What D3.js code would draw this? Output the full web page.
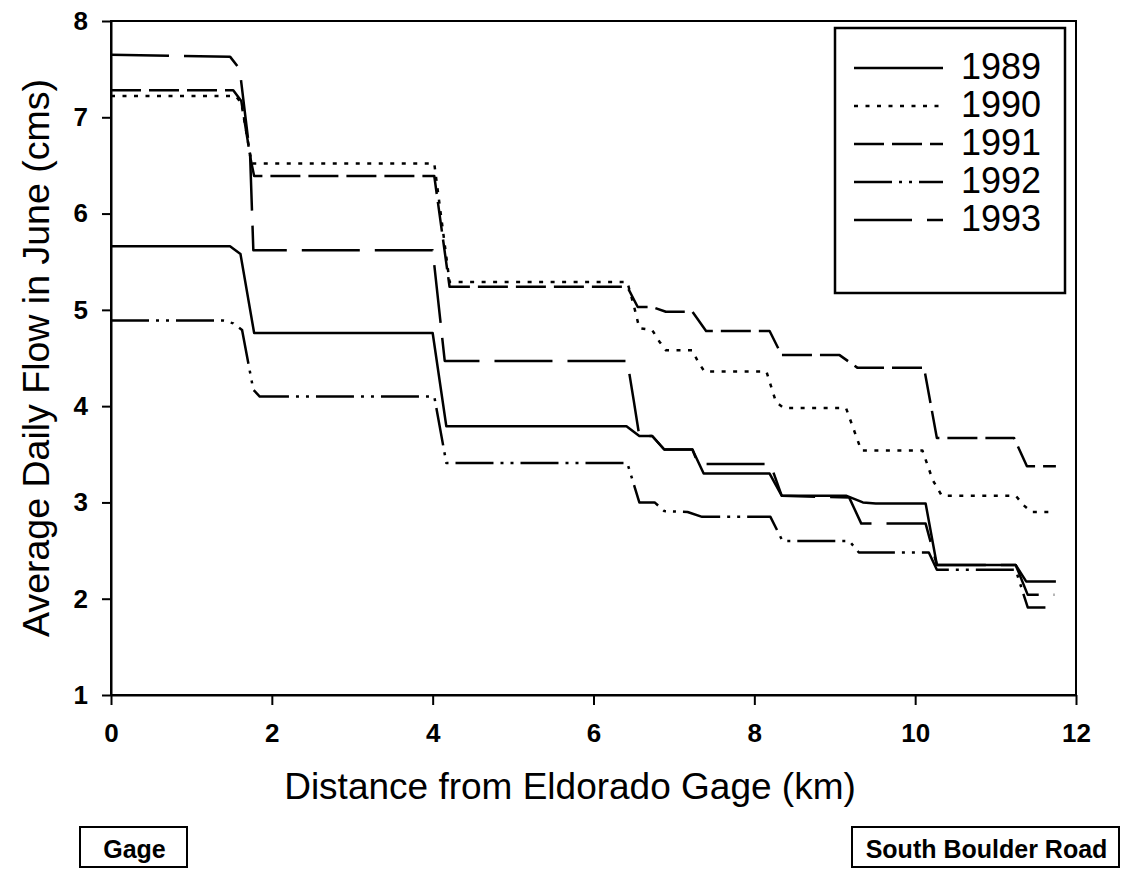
<!DOCTYPE html>
<html>
<head>
<meta charset="utf-8">
<script src="https://cdn.jsdelivr.net/npm/d3@7"></script>
<style>
    body { margin: 0; background: white; }
    svg { display: block; }
    text { font-family: Arial, "Liberation Sans", sans-serif; fill: black; }
</style>
</head>
<body>
<div id="chart-container"></div>
<script>
'use strict'

var years = ['1989', '1990', '1991', '1992', '1993']

var km1989 = [0, 1.48, 1.61, 1.78, 4.0, 4.17, 6.41, 6.57, 6.73, 6.88, 7.23, 7.37, 8.19, 8.34, 9.14, 9.35, 9.51, 10.13, 10.27, 11.25, 11.38, 11.75]
var q1989  = [5.66, 5.66, 5.58, 4.76, 4.76, 3.79, 3.79, 3.69, 3.69, 3.55, 3.55, 3.30, 3.30, 3.07, 3.07, 3.0, 2.99, 2.99, 2.35, 2.35, 2.18, 2.18]

var km1990 = [0, 1.55, 1.62, 1.75, 4.02, 4.21, 6.42, 6.5, 6.57, 6.73, 6.82, 6.9, 7.23, 7.3, 7.38, 8.15, 8.27, 8.37, 9.14, 9.33, 10.09, 10.22, 10.33, 11.25, 11.35, 11.45, 11.72]
var q1990  = [7.22, 7.22, 7.15, 6.52, 6.52, 5.29, 5.29, 5.05, 4.81, 4.79, 4.67, 4.58, 4.58, 4.46, 4.36, 4.36, 4.04, 3.98, 3.98, 3.54, 3.54, 3.23, 3.07, 3.07, 2.97, 2.9, 2.9]

var km1991 = [0, 1.52, 1.62, 1.74, 1.78, 4.02, 4.21, 6.42, 6.55, 6.73, 6.9, 7.23, 7.4, 8.19, 8.34, 9.06, 9.28, 10.11, 10.27, 11.23, 11.39, 11.75]
var q1991  = [7.28, 7.28, 7.17, 6.55, 6.39, 6.39, 5.24, 5.24, 5.03, 5.03, 4.98, 4.98, 4.78, 4.78, 4.53, 4.53, 4.40, 4.40, 3.67, 3.67, 3.375, 3.375]

var km1992 = [0, 1.39, 1.52, 1.63, 1.77, 1.85, 4.02, 4.17, 6.42, 6.57, 6.76, 6.88, 7.17, 7.35, 8.2, 8.35, 9.18, 9.3, 10.17, 10.27, 11.25, 11.4, 11.62]
var q1992  = [4.89, 4.89, 4.86, 4.79, 4.17, 4.10, 4.10, 3.41, 3.41, 3.0, 3.0, 2.91, 2.9, 2.85, 2.85, 2.6, 2.6, 2.48, 2.48, 2.30, 2.30, 1.91, 1.91]

var km1993 = [0, 1.48, 1.6, 1.73, 1.77, 4.0, 4.15, 6.42, 6.5, 6.57, 6.73, 6.88, 7.23, 7.3, 8.2, 8.34, 9.18, 9.33, 10.13, 10.27, 11.25, 11.4, 11.73]
var q1993  = [7.65, 7.63, 7.5, 6.6, 5.62, 5.62, 4.47, 4.47, 4.06, 3.69, 3.69, 3.55, 3.55, 3.40, 3.40, 3.07, 3.05, 2.78, 2.78, 2.35, 2.35, 2.04, 2.04]

var xTicks = [0, 2, 4, 6, 8, 10, 12]
var yTicks = [1, 2, 3, 4, 5, 6, 7, 8]
var sites = ['Gage', 'South Boulder Road']

var xTitle = 'Distance from Eldorado Gage (km)'
var yTitle = 'Average Daily Flow in June (cms)'

var seriesKm = [km1989, km1990, km1991, km1992, km1993]
var seriesQ = [q1989, q1990, q1991, q1992, q1993]

// dash pattern per year, same order as years
var dashes = [null, '4,7.5', '30,8', '38,7,3,7,3,7', '58,15']

var drawChart = function() {
    let width = 1122
    let height = 869

    let svg = d3.select('#chart-container')
        .append('svg')
            .attr('width', width)
            .attr('height', height)

    let x = d3.scaleLinear()
        .domain([0, 12])
        .range([111, 1076])

    let y = d3.scaleLinear()
        .domain([1, 8])
        .range([695, 21])

    // frame
    svg.append('rect')
        .attr('x', x(0))
        .attr('y', y(8))
        .attr('width', x(12) - x(0))
        .attr('height', y(1) - y(8))
        .style('fill', 'none')
        .style('stroke', 'black')
        .style('stroke-width', 2)

    let xAxis = d3.axisBottom(x)
        .tickValues(xTicks)
        .tickFormat(d3.format('d'))
        .tickSize(10)
        .tickSizeOuter(0)
        .tickPadding(19)

    let yAxis = d3.axisLeft(y)
        .tickValues(yTicks)
        .tickFormat(d3.format('d'))
        .tickSize(9)
        .tickSizeOuter(0)
        .tickPadding(14)

    svg.append('g')
        .attr('class', 'x axis')
        .attr('transform', 'translate(0,' + y(1) + ')')
        .call(xAxis)

    svg.append('g')
        .attr('class', 'y axis')
        .attr('transform', 'translate(' + x(0) + ',0)')
        .call(yAxis)

    svg.selectAll('.axis path, .axis line')
        .style('stroke', 'black')
        .style('stroke-width', 2)

    svg.selectAll('.axis text')
        .style('font-family', 'Arial, "Liberation Sans", sans-serif')
        .style('font-size', '26px')
        .style('font-weight', 'bold')
        .style('fill', 'black')

    // axis titles
    svg.append('text')
        .attr('x', 570)
        .attr('y', 799)
        .style('font-size', '37px')
        .style('text-anchor', 'middle')
        .text(xTitle)

    svg.append('text')
        .attr('transform', 'translate(49,' + (y(1) + y(8)) / 2 + ') rotate(-90)')
        .style('font-size', '37.5px')
        .style('text-anchor', 'middle')
        .text(yTitle)

    // flow lines
    let line = d3.line()
        .x(d => { return x(d[0]) })
        .y(d => { return y(d[1]) })

    years.forEach((yr, i) => {
        let pts = seriesKm[i].map((k, j) => { return [k, seriesQ[i][j]] })
        svg.append('path')
            .datum(pts)
            .attr('d', line)
            .style('fill', 'none')
            .style('stroke', 'black')
            .style('stroke-width', 2.5)
            .style('stroke-linejoin', 'round')
            .style('stroke-dasharray', dashes[i])
    })

    // legend
    let legend = svg.append('g').attr('class', 'legend')

    legend.append('rect')
        .attr('x', 835)
        .attr('y', 28)
        .attr('width', 230)
        .attr('height', 265)
        .style('fill', 'white')
        .style('stroke', 'black')
        .style('stroke-width', 2.5)

    let rows = legend.selectAll('.row').data(years)
        .enter().append('g')
            .attr('class', 'row')
            .attr('transform', (d, i) => { return 'translate(0,' + (68 + i * 38) + ')' })

    rows.append('line')
        .attr('x1', 854)
        .attr('x2', 943)
        .style('stroke', 'black')
        .style('stroke-width', 2.5)
        .style('stroke-dasharray', (d, i) => { return dashes[i] })

    rows.append('text')
        .attr('x', 961)
        .attr('y', 11)
        .style('font-size', '36px')
        .text(d => { return d })

    // site boxes under the chart
    let boxes = [
        { left: 80, width: 107 },
        { left: 852, width: 267 }
    ]

    let site = svg.selectAll('.site').data(sites)
        .enter().append('g')
            .attr('class', 'site')

    site.append('rect')
        .attr('x', (d, i) => { return boxes[i].left })
        .attr('y', 827)
        .attr('width', (d, i) => { return boxes[i].width })
        .attr('height', 40)
        .style('fill', 'white')
        .style('stroke', 'black')
        .style('stroke-width', 2)

    site.append('text')
        .attr('x', (d, i) => { return boxes[i].left + boxes[i].width / 2 + 1 })
        .attr('y', 858)
        .style('font-size', '25px')
        .style('font-weight', 'bold')
        .style('text-anchor', 'middle')
        .text(d => { return d })
}

window.onload = function() {
    drawChart()
}
</script>
</body>
</html>
